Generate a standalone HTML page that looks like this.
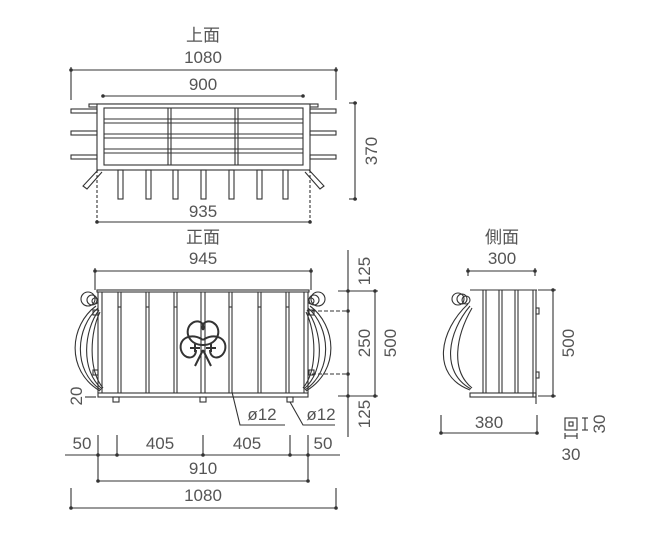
<!DOCTYPE html>
<html><head><style>
body{margin:0;background:#fff;}
svg{display:block;}
text{font-family:"Liberation Sans","Noto Sans CJK JP",sans-serif;fill:#555;font-size:17px;}
</style></head><body>
<svg width="670" height="534" viewBox="0 0 670 534" xmlns="http://www.w3.org/2000/svg">
<g stroke="#333" stroke-width="1.1" fill="none">
<line x1="71" y1="70" x2="336" y2="70"/>
<line x1="71" y1="67" x2="71" y2="100"/><line x1="336" y1="67" x2="336" y2="100"/>
<line x1="103" y1="96" x2="303" y2="96"/>
<line x1="355" y1="103" x2="355" y2="199"/>
<line x1="349" y1="103" x2="357" y2="103"/><line x1="349" y1="199" x2="357" y2="199"/>
<rect x="89" y="104" width="229" height="3" fill="#fff"/>
<rect x="97" y="104" width="213" height="66" fill="#fff"/>
<rect x="104" y="108" width="199" height="57"/>
<line x1="104" y1="119" x2="303" y2="119"/><line x1="104" y1="123" x2="303" y2="123"/>
<line x1="104" y1="134" x2="303" y2="134"/><line x1="104" y1="138" x2="303" y2="138"/>
<line x1="104" y1="149" x2="303" y2="149"/><line x1="104" y1="153" x2="303" y2="153"/>
<line x1="168" y1="108" x2="168" y2="165"/><line x1="171" y1="108" x2="171" y2="165"/>
<line x1="235" y1="108" x2="235" y2="165"/><line x1="238" y1="108" x2="238" y2="165"/>
<rect x="71" y="109" width="26" height="4"/><rect x="71" y="131" width="26" height="4"/><rect x="71" y="155" width="26" height="4"/>
<rect x="310" y="109" width="26" height="4"/><rect x="310" y="131" width="26" height="4"/><rect x="310" y="155" width="26" height="4"/>
<rect x="118" y="170" width="5" height="29"/><rect x="146" y="170" width="5" height="29"/><rect x="173" y="170" width="5" height="29"/>
<rect x="201" y="170" width="5" height="29"/><rect x="229" y="170" width="5" height="29"/><rect x="257" y="170" width="5" height="29"/><rect x="283" y="170" width="5" height="29"/>
<path d="M98 170 L83 186 L87 189 L102 172"/>
<path d="M309 170 L324 186 L320 189 L305 172"/>
<line x1="97" y1="170" x2="97" y2="223" stroke-dasharray="3,2"/><line x1="310" y1="170" x2="310" y2="223" stroke-dasharray="3,2"/>
<line x1="97" y1="222" x2="310" y2="222"/>
<line x1="95" y1="271" x2="311" y2="271"/>
<line x1="95" y1="268" x2="95" y2="290"/><line x1="311" y1="268" x2="311" y2="290"/>
<rect x="97" y="290" width="212" height="2"/>
<line x1="98" y1="292" x2="98" y2="393"/><line x1="102" y1="292" x2="102" y2="393"/>
<line x1="308" y1="292" x2="308" y2="393"/><line x1="304" y1="292" x2="304" y2="393"/>
<rect x="98" y="393" width="210" height="4"/>
<g>
<line x1="118" y1="292" x2="118" y2="393"/><line x1="121" y1="292" x2="121" y2="393"/><line x1="118" y1="307" x2="121" y2="307"/>
<line x1="146" y1="292" x2="146" y2="393"/><line x1="149" y1="292" x2="149" y2="393"/><line x1="146" y1="307" x2="149" y2="307"/>
<line x1="174" y1="292" x2="174" y2="393"/><line x1="177" y1="292" x2="177" y2="393"/><line x1="174" y1="307" x2="177" y2="307"/>
<line x1="201" y1="292" x2="201" y2="393"/><line x1="205" y1="292" x2="205" y2="393"/>
<line x1="229" y1="292" x2="229" y2="393"/><line x1="232" y1="292" x2="232" y2="393"/><line x1="229" y1="307" x2="232" y2="307"/>
<line x1="258" y1="292" x2="258" y2="393"/><line x1="261" y1="292" x2="261" y2="393"/><line x1="258" y1="307" x2="261" y2="307"/>
<line x1="286" y1="292" x2="286" y2="393"/><line x1="289" y1="292" x2="289" y2="393"/><line x1="286" y1="307" x2="289" y2="307"/>
</g>
<g stroke-width="2">
<path d="M203 345 C190 345 184 333 190 325 C196 318 206 322 203 330"/>
<path d="M203 345 C216 345 222 333 216 325 C210 318 200 322 203 330"/>
<path d="M203 340 C192 332 178 338 181 350 C184 360 196 360 196 350"/>
<path d="M203 340 C214 332 228 338 225 350 C222 360 210 360 210 350"/>
<path d="M190 348 L200 348 M206 348 L216 348 M195 344 L195 352 M211 344 L211 352"/>
<path d="M203 350 L195 366 M203 350 L211 366"/>
</g>
<g>
<circle cx="88" cy="299" r="7"/><circle cx="92" cy="300" r="5"/><circle cx="95" cy="301" r="3"/>
<circle cx="318" cy="299" r="7"/><circle cx="314" cy="300" r="5"/><circle cx="311" cy="301" r="3"/>
<path d="M96 306 C70 325 65 370 100 391"/><path d="M98 308 C76 327 72 370 101 390"/>
<path d="M99 310 C84 330 80 370 102 389"/><path d="M100 312 C90 332 88 370 103 388"/>
<path d="M310 306 C336 325 341 370 306 391"/><path d="M308 308 C330 327 334 370 305 390"/>
<path d="M307 310 C322 330 326 370 304 389"/><path d="M306 312 C316 332 318 370 303 388"/>
<rect x="93" y="310" width="5" height="5"/><rect x="93" y="370" width="5" height="5"/>
<rect x="309" y="310" width="5" height="5"/><rect x="309" y="370" width="5" height="5"/>
</g>
<rect x="113" y="397" width="6" height="5"/><rect x="200" y="397" width="6" height="5"/><rect x="287" y="397" width="6" height="5"/>
<line x1="312" y1="311" x2="348" y2="311" stroke-dasharray="4,2"/>
<line x1="312" y1="374" x2="348" y2="374" stroke-dasharray="4,2"/>
<line x1="348" y1="250" x2="348" y2="437"/>
<line x1="338" y1="291" x2="378" y2="291"/><line x1="338" y1="396" x2="378" y2="396"/>
<line x1="375" y1="291" x2="375" y2="396"/>
<path d="M232 392 L240 425 L285 425"/><path d="M290 402 L303 425 L335 425"/>
<line x1="85" y1="397" x2="96" y2="397"/>
<line x1="65" y1="455" x2="340" y2="455"/>
<line x1="98" y1="435" x2="98" y2="482"/><line x1="117" y1="435" x2="117" y2="455"/>
<line x1="203" y1="435" x2="203" y2="455"/><line x1="290" y1="435" x2="290" y2="455"/>
<line x1="308" y1="435" x2="308" y2="482"/>
<line x1="98" y1="481" x2="308" y2="481"/>
<line x1="71" y1="488" x2="71" y2="508"/><line x1="336" y1="488" x2="336" y2="508"/>
<line x1="71" y1="508" x2="336" y2="508"/>
<line x1="468" y1="271" x2="535" y2="271"/>
<line x1="468" y1="268" x2="468" y2="276"/><line x1="535" y1="268" x2="535" y2="276"/>
<line x1="470" y1="290" x2="537" y2="290"/>
<line x1="483" y1="290" x2="483" y2="393"/><line x1="486" y1="290" x2="486" y2="393"/>
<line x1="499" y1="290" x2="499" y2="393"/><line x1="502" y1="290" x2="502" y2="393"/>
<line x1="515" y1="290" x2="515" y2="393"/><line x1="518" y1="290" x2="518" y2="393"/>
<line x1="533" y1="290" x2="533" y2="397"/><line x1="536" y1="290" x2="536" y2="404"/>
<rect x="470" y="393" width="66" height="4"/>
<rect x="536" y="308" width="3" height="6"/><rect x="536" y="372" width="3" height="6"/>
<circle cx="458" cy="299" r="6"/><circle cx="462" cy="299" r="5"/><circle cx="466" cy="300" r="4"/>
<path d="M468 304 C440 330 430 375 470 390"/><path d="M470 306 C448 332 440 372 471 389"/>
<path d="M472 308 C456 336 450 370 472 388"/>
<line x1="538" y1="290" x2="556" y2="290"/><line x1="538" y1="396" x2="556" y2="396"/>
<line x1="553" y1="290" x2="553" y2="396"/>
<line x1="441" y1="415" x2="441" y2="433"/><line x1="537" y1="415" x2="537" y2="433"/>
<line x1="441" y1="433" x2="537" y2="433"/>
<rect x="565" y="418" width="12" height="12"/><rect x="569" y="422" width="4" height="4"/>
<line x1="585" y1="418" x2="585" y2="430"/><line x1="582" y1="418" x2="588" y2="418"/><line x1="582" y1="430" x2="588" y2="430"/>
<line x1="565" y1="436" x2="577" y2="436"/><line x1="565" y1="433" x2="565" y2="439"/><line x1="577" y1="433" x2="577" y2="439"/>
</g>
<g fill="#333">
<circle cx="71" cy="70" r="1.8"/><circle cx="336" cy="70" r="1.8"/><circle cx="103" cy="96" r="1.8"/><circle cx="303" cy="96" r="1.8"/>
<circle cx="355" cy="103" r="1.8"/><circle cx="355" cy="199" r="1.8"/><circle cx="97" cy="222" r="1.8"/><circle cx="310" cy="222" r="1.8"/>
<circle cx="95" cy="271" r="1.8"/><circle cx="311" cy="271" r="1.8"/>
<circle cx="348" cy="291" r="1.8"/><circle cx="348" cy="311" r="1.8"/><circle cx="348" cy="374" r="1.8"/><circle cx="348" cy="396" r="1.8"/>
<circle cx="375" cy="291" r="1.8"/><circle cx="375" cy="396" r="1.8"/>
<circle cx="98" cy="455" r="1.8"/><circle cx="117" cy="455" r="1.8"/><circle cx="203" cy="455" r="1.8"/><circle cx="290" cy="455" r="1.8"/><circle cx="308" cy="455" r="1.8"/>
<circle cx="98" cy="481" r="1.8"/><circle cx="308" cy="481" r="1.8"/><circle cx="71" cy="508" r="1.8"/><circle cx="336" cy="508" r="1.8"/>
<circle cx="468" cy="271" r="1.8"/><circle cx="535" cy="271" r="1.8"/><circle cx="553" cy="290" r="1.8"/><circle cx="553" cy="396" r="1.8"/>
<circle cx="441" cy="433" r="1.8"/><circle cx="537" cy="433" r="1.8"/>
</g>
<text x="203" y="41" text-anchor="middle">上面</text>
<text x="203" y="63" text-anchor="middle">1080</text>
<text x="203" y="90" text-anchor="middle">900</text>
<text x="203" y="217" text-anchor="middle">935</text>
<text transform="translate(377,151) rotate(-90)" text-anchor="middle">370</text>
<text x="203" y="243" text-anchor="middle">正面</text>
<text x="203" y="264" text-anchor="middle">945</text>
<text transform="translate(370,271) rotate(-90)" text-anchor="middle">125</text>
<text transform="translate(370,343) rotate(-90)" text-anchor="middle">250</text>
<text transform="translate(370,414) rotate(-90)" text-anchor="middle">125</text>
<text transform="translate(396,343) rotate(-90)" text-anchor="middle">500</text>
<text transform="translate(82,396) rotate(-90)" text-anchor="middle">20</text>
<text x="262" y="420" text-anchor="middle">ø12</text>
<text x="321" y="420" text-anchor="middle">ø12</text>
<text x="82" y="449" text-anchor="middle">50</text>
<text x="160" y="449" text-anchor="middle">405</text>
<text x="247" y="449" text-anchor="middle">405</text>
<text x="323" y="449" text-anchor="middle">50</text>
<text x="203" y="474" text-anchor="middle">910</text>
<text x="203" y="501" text-anchor="middle">1080</text>
<text x="502" y="243" text-anchor="middle">側面</text>
<text x="502" y="264" text-anchor="middle">300</text>
<text transform="translate(574,343) rotate(-90)" text-anchor="middle">500</text>
<text x="489" y="428" text-anchor="middle">380</text>
<text transform="translate(605,424) rotate(-90)" text-anchor="middle">30</text>
<text x="571" y="460" text-anchor="middle">30</text>
</svg>
</body></html>
